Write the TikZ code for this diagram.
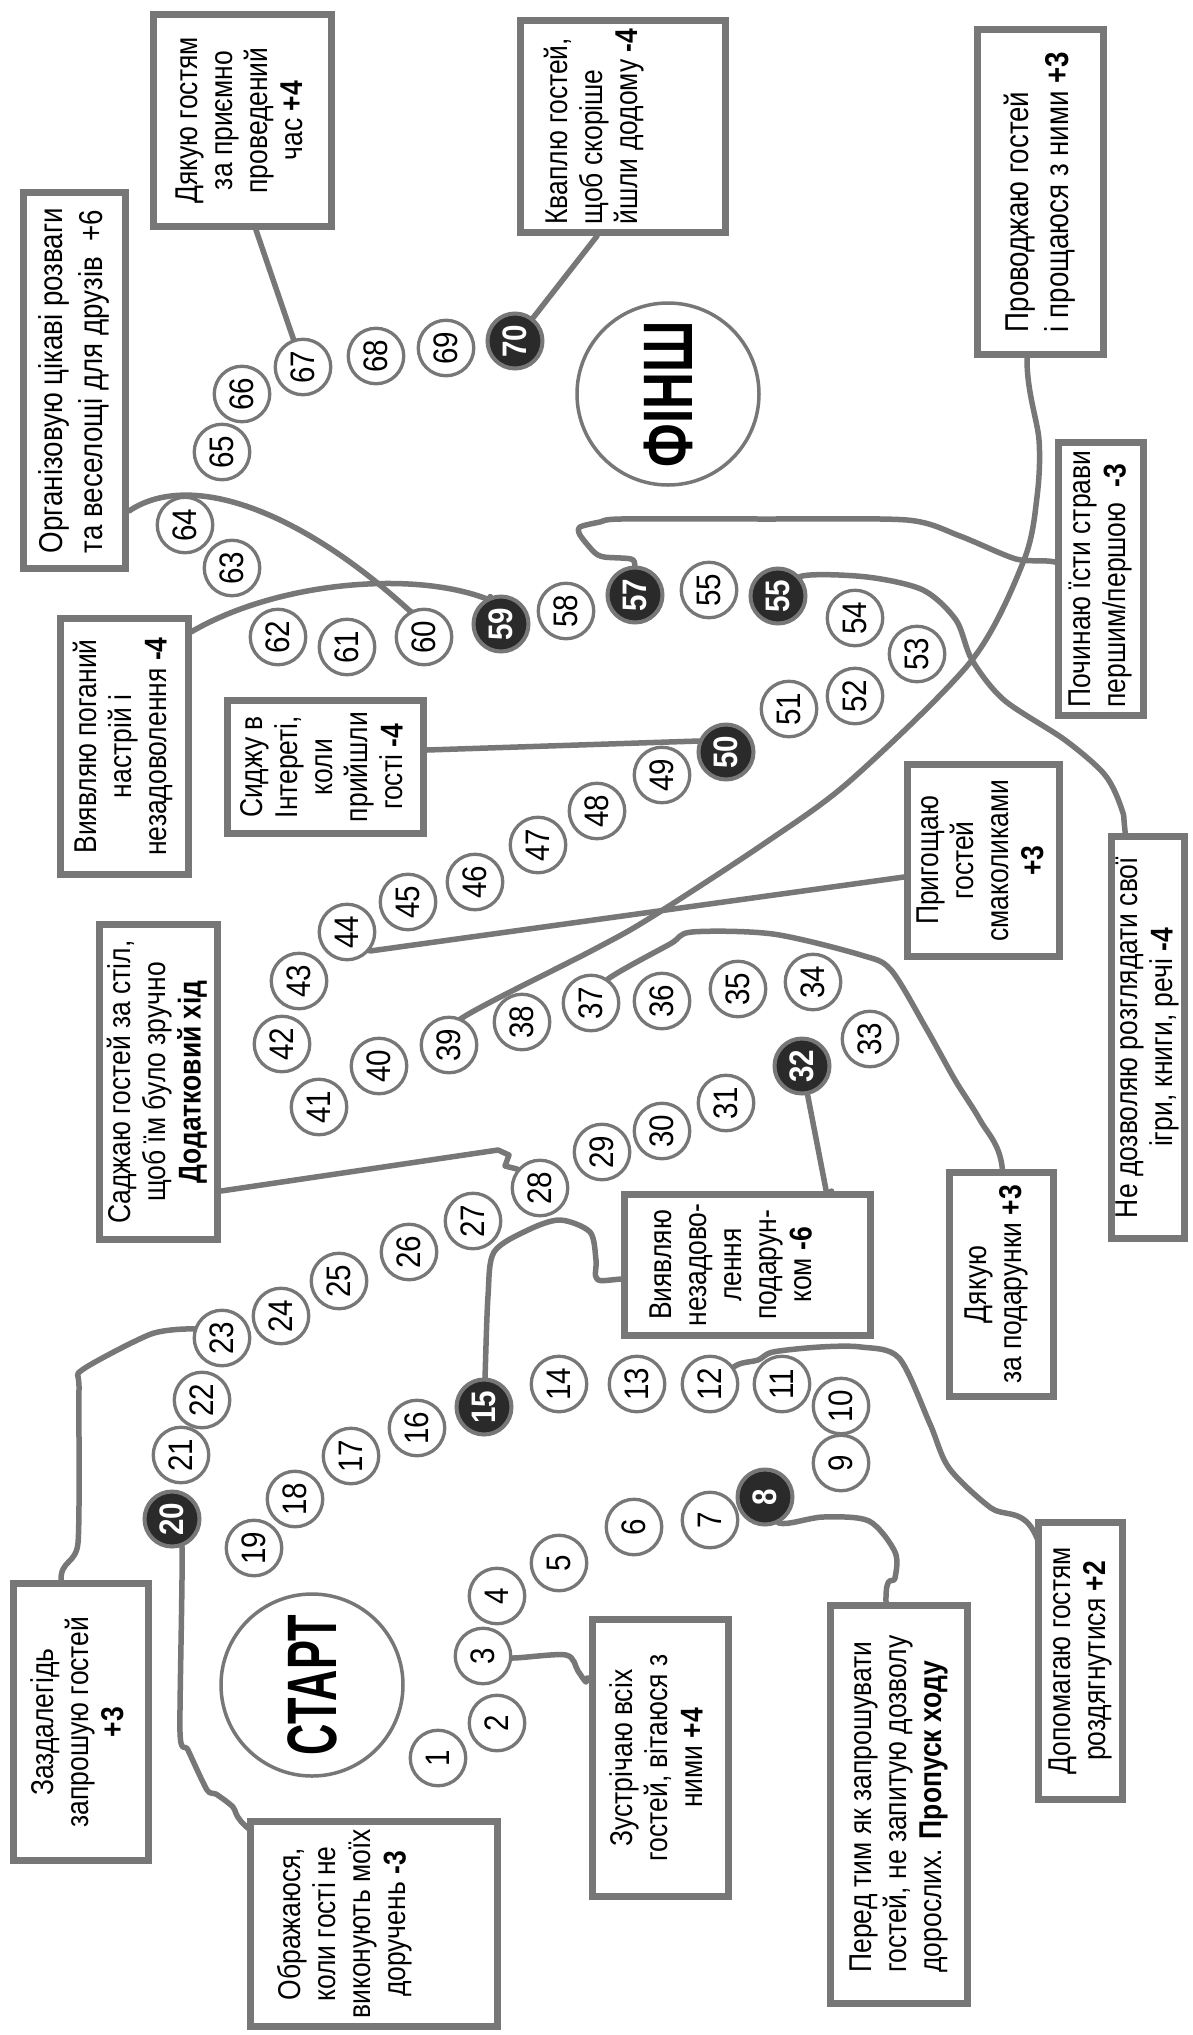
\documentclass[tikz,border=0pt]{standalone}
\usepackage{graphicx}
\usepackage{fontspec}
\setmainfont{Liberation Sans}[FakeStretch=0.84]
\newfontfamily\numfont{Liberation Sans}[FakeStretch=0.87]
\newfontfamily\bigfont{Liberation Sans}[FakeStretch=0.62]
\newfontfamily\bigfontb{Liberation Sans}[FakeStretch=0.73]
\usetikzlibrary{backgrounds}
\definecolor{lg}{HTML}{777777}
\definecolor{dk}{HTML}{2A2A2A}
\newcommand{\rnum}[1]{\rotatebox{90}{#1}}
\newcommand{\rtx}[2]{\rotatebox{90}{\begin{tabular}{@{}#1@{}}#2\end{tabular}}}
\tikzset{
 cell/.style={circle, draw=lg, line width=3.3pt, fill=white, minimum size=55.5pt, inner sep=0pt, font=\numfont\fontsize{34}{34}\selectfont},
 bcell/.style={circle, draw=lg, line width=4pt, fill=dk, text=white, minimum size=55pt, inner sep=0pt, font=\numfont\bfseries\fontsize{34}{34}\selectfont},
 box/.style={draw=lg, line width=7pt, fill=white, inner sep=0pt, font=\fontsize{31.5}{35}\selectfont},
 conn/.style={draw=lg, line width=5.5pt, line cap=round, line join=round},
 bigc/.style={circle, draw=lg, line width=3.5pt, fill=white, minimum size=182pt, inner sep=0pt, font=\bfseries\fontsize{70}{70}\selectfont}
}
\begin{document}
\begin{tikzpicture}[x=1pt,y=-1pt]
\useasboundingbox (0,0) rectangle (1193,2035);
% big circles
\node[bigc] (start) at (312,1685) {\rnum{\bigfont СТАРТ}};
\node[bigc] (finish) at (668,394) {\rnum{\bigfontb ФІНШ}};
% cells
\node[cell] (c1) at (438,1758) {\rnum{1}};
\node[cell] (c2) at (497,1723) {\rnum{2}};
\node[cell] (c3) at (483,1656) {\rnum{3}};
\node[cell] (c4) at (497,1596) {\rnum{4}};
\node[cell] (c5) at (559,1563) {\rnum{5}};
\node[cell] (c6) at (634,1527) {\rnum{6}};
\node[cell] (c7) at (710,1520) {\rnum{7}};
\node[bcell] (c8) at (765,1497) {\rnum{8}};
\node[cell] (c9) at (841,1463) {\rnum{9}};
\node[cell] (c10) at (841,1406) {\rnum{10}};
\node[cell] (c11) at (782,1384) {\rnum{11}};
\node[cell] (c12) at (710,1384) {\rnum{12}};
\node[cell] (c13) at (637,1384) {\rnum{13}};
\node[cell] (c14) at (559,1384) {\rnum{14}};
\node[bcell] (c15) at (484,1407) {\rnum{15}};
\node[cell] (c16) at (417,1428) {\rnum{16}};
\node[cell] (c17) at (351,1456) {\rnum{17}};
\node[cell] (c18) at (295,1499) {\rnum{18}};
\node[cell] (c19) at (254,1548) {\rnum{19}};
\node[bcell] (c20) at (172,1519) {\rnum{20}};
\node[cell] (c21) at (181,1455) {\rnum{21}};
\node[cell] (c22) at (202,1400) {\rnum{22}};
\node[cell] (c23) at (222,1338) {\rnum{23}};
\node[cell] (c24) at (281,1316) {\rnum{24}};
\node[cell] (c25) at (339,1281) {\rnum{25}};
\node[cell] (c26) at (409,1252) {\rnum{26}};
\node[cell] (c27) at (473,1221) {\rnum{27}};
\node[cell] (c28) at (540,1188) {\rnum{28}};
\node[cell] (c29) at (602,1152) {\rnum{29}};
\node[cell] (c30) at (662,1131) {\rnum{30}};
\node[cell] (c31) at (726,1103) {\rnum{31}};
\node[bcell] (c32) at (802,1066) {\rnum{32}};
\node[cell] (c33) at (870,1039) {\rnum{33}};
\node[cell] (c34) at (813,982) {\rnum{34}};
\node[cell] (c35) at (738,989) {\rnum{35}};
\node[cell] (c36) at (662,1001) {\rnum{36}};
\node[cell] (c37) at (591,1003) {\rnum{37}};
\node[cell] (c38) at (522,1022) {\rnum{38}};
\node[cell] (c39) at (449,1045) {\rnum{39}};
\node[cell] (c40) at (379,1066) {\rnum{40}};
\node[cell] (c41) at (319,1107) {\rnum{41}};
\node[cell] (c42) at (282,1044) {\rnum{42}};
\node[cell] (c43) at (299,981) {\rnum{43}};
\node[cell] (c44) at (347,932) {\rnum{44}};
\node[cell] (c45) at (408,902) {\rnum{45}};
\node[cell] (c46) at (475,882) {\rnum{46}};
\node[cell] (c47) at (538,845) {\rnum{47}};
\node[cell] (c48) at (597,811) {\rnum{48}};
\node[cell] (c49) at (662,775) {\rnum{49}};
\node[bcell] (c50) at (726,752) {\rnum{50}};
\node[cell] (c51) at (789,709) {\rnum{51}};
\node[cell] (c52) at (855,696) {\rnum{52}};
\node[cell] (c53) at (917,654) {\rnum{53}};
\node[cell] (c54) at (855,618) {\rnum{54}};
\node[bcell] (c55b) at (778,596) {\rnum{55}};
\node[cell] (c55a) at (709,590) {\rnum{55}};
\node[bcell] (c57) at (635,595) {\rnum{57}};
\node[cell] (c58) at (566,611) {\rnum{58}};
\node[bcell] (c59) at (501,624) {\rnum{59}};
\node[cell] (c60) at (424,637) {\rnum{60}};
\node[cell] (c61) at (347,647) {\rnum{61}};
\node[cell] (c62) at (278,637) {\rnum{62}};
\node[cell] (c63) at (232,568) {\rnum{63}};
\node[cell] (c64) at (185,525) {\rnum{64}};
\node[cell] (c65) at (222,452) {\rnum{65}};
\node[cell] (c66) at (242,394) {\rnum{66}};
\node[cell] (c67) at (303,367) {\rnum{67}};
\node[cell] (c68) at (376,356) {\rnum{68}};
\node[cell] (c69) at (446,348) {\rnum{69}};
\node[bcell] (c70) at (515,341) {\rnum{70}};
% boxes
\node[box, minimum width=178pt, minimum height=212pt] (b1) at (242.5,120.5) {\rtx{c}{Дякую гостям\\за приємно\\проведений\\час \textbf{+4}}};
\node[box, minimum width=102pt, minimum height=376pt, font=\fontsize{33}{40}\selectfont] (b2) at (74.5,380.5) {\rtx{l}{Організовую цікаві розваги\\та веселощі для друзів~~+6}};
\node[box, minimum width=205pt, minimum height=212pt] (b3) at (623,126.5) {\rtx{l}{Кваплю гостей,\\щоб скоріше\\йшли додому \textbf{-4}\\[56pt]}};
\node[box, minimum width=126pt, minimum height=325pt, font=\fontsize{33}{40}\selectfont] (b4) at (1040.5,192) {\rtx{l}{Проводжаю гостей\\і прощаюся з ними \textbf{+3}}};
\node[box, minimum width=85pt, minimum height=273pt] (b5) at (1101,579) {\rtx{l}{Починаю їсти страви\\першим/першою~~\textbf{-3}}};
\node[box, minimum width=128pt, minimum height=256pt] (b6) at (124.5,746.5) {\rtx{c}{Виявляю поганий\\настрій і\\незадоволення \textbf{-4}}};
\node[box, minimum width=196pt, minimum height=133pt] (b7) at (325.5,767) {\rtx{c}{Сиджу в\\Інтереті,\\коли\\прийшли\\гості \textbf{-4}}};
\node[box, minimum width=152pt, minimum height=192pt] (b8) at (983.5,860.5) {\rtx{c}{Пригощаю\\гостей\\смаколиками\\\textbf{+3}}};
\node[box, minimum width=73pt, minimum height=402pt] (b9) at (1148,1037.5) {\rtx{c}{Не дозволяю розглядати свої\\ігри, книги, речі \textbf{-4}}};
\node[box, minimum width=118pt, minimum height=315pt] (b10) at (158.5,1082) {\rtx{c}{Саджаю гостей за стіл,\\щоб їм було зручно\\\textbf{Додатковий хід}}};
\node[box, minimum width=246pt, minimum height=141pt] (b11) at (747.5,1265) {\rtx{c}{Виявляю\\незадово-\\лення\\подарун-\\ком \textbf{-6}\\[26pt]}};
\node[box, minimum width=104pt, minimum height=224pt] (b12) at (1001.5,1284.5) {\rtx{c}{Дякую\\за подарунки \textbf{+3}\\[10pt]}};
\node[box, minimum width=135pt, minimum height=277pt] (b13) at (81,1722) {\rtx{c}{Заздалегідь\\запрошую гостей\\\textbf{+3}}};
\node[box, minimum width=247pt, minimum height=205pt] (b14) at (374,1924) {\rtx{c}{Ображаюся,\\коли гості не\\виконують моїх\\доручень \textbf{-3}\\[56pt]}};
\node[box, minimum width=136pt, minimum height=277pt] (b15) at (660.5,1758) {\rtx{c}{Зустрічаю всіх\\гостей, вітаюся з\\ними \textbf{+4}}};
\node[box, minimum width=137pt, minimum height=398pt] (b16) at (899,1804) {\rtx{l}{Перед тим як запрошувати\\гостей, не запитую дозволу\\дорослих. \textbf{Пропуск ходу}}};
\node[box, minimum width=84pt, minimum height=277pt] (b17) at (1080.5,1661) {\rtx{c}{Допомагаю гостям\\роздягнутися \textbf{+2}}};
% connectors
\begin{pgfonlayer}{background}
\fill[white] (0,0) rectangle (1193,2035);
\draw[conn] (b1) -- (256,230) -- (c67);
\draw[conn] (c70) -- (597,236) -- (b3);
\draw[conn] (b2) -- (129,511) .. controls (190,470) and (300,510) .. (411,612) -- (c60);
\draw[conn] (b6) -- (191,632) .. controls (280,580) and (420,570) .. (492,601) -- (c59);
\draw[conn] plot[smooth, tension=0.45] coordinates {(c57) (635,567) (631,559) (604,557) (594,552) (580,535) (580,527) (600,522) (621,519) (760,519) (907,520) (960,536) (1016,559) (1055,562) (b5)};
\draw[conn] plot[smooth, tension=0.5] coordinates {(c55b) (802,576) (867,577) (923,590) (956,620) (972,660) (1004,700) (1065,740) (1105,775) (1122,810) (1126,840) (b9)};
\draw[conn] plot[smooth, tension=0.5] coordinates {(b4) (1027,358) (1039,440) (1037,497) (1024,560) (972,660) (851,780) (765,843) (650,918) (593,950) (462,1018) (c39)};
\draw[conn] (b7) -- (427,750) -- (699,741) -- (c50);
\draw[conn] (b8) -- (904,877) -- (370,951) -- (c44);
\draw[conn] plot[smooth, tension=0.5] coordinates {(c37) (608,979) (670,944) (692,932) (773,934) (861,955) (891,970) (926,1028) (955,1080) (980,1120) (1002,1166) (b12)};
\draw[conn] (c32) -- (827,1195) -- (b11);
\draw[conn] (b10) -- (221,1191) -- (498,1150) -- (509,1155) -- (505,1166) -- (517,1169) -- (c28);
\draw[conn] plot[smooth, tension=0.5] coordinates {(c15) (485,1378) (488,1296) (494,1252) (528,1230) (560,1220) (590,1232) (596,1260) (597,1279) (621,1279) (b11)};
\draw[conn] plot[smooth, tension=0.5] coordinates {(c12) (737,1365) (758,1360) (773,1352) (820,1347) (861,1347) (899,1358) (930,1424) (949,1468) (991,1508) (1033,1530) (b17)};
\draw[conn] plot[smooth, tension=0.5] coordinates {(c8) (779,1523) (823,1517) (869,1521) (895,1552) (895,1578) (886,1602) (b16)};
\draw[conn] plot[smooth, tension=0.5] coordinates {(c3) (513,1658) (566,1655) (578,1671) (586,1682) (593,1682) (b15)};
\draw[conn] plot[smooth, tension=0.4] coordinates {(c23) (195,1329) (151,1334) (82,1370) (79,1390) (78,1543) (61,1580) (b13)};
\draw[conn] plot[smooth, tension=0.4] coordinates {(c20) (182,1547) (180,1732) (188,1750) (207,1790) (216,1794) (233,1807) (249,1829) (b14)};
\end{pgfonlayer}
\end{tikzpicture}
\end{document}
